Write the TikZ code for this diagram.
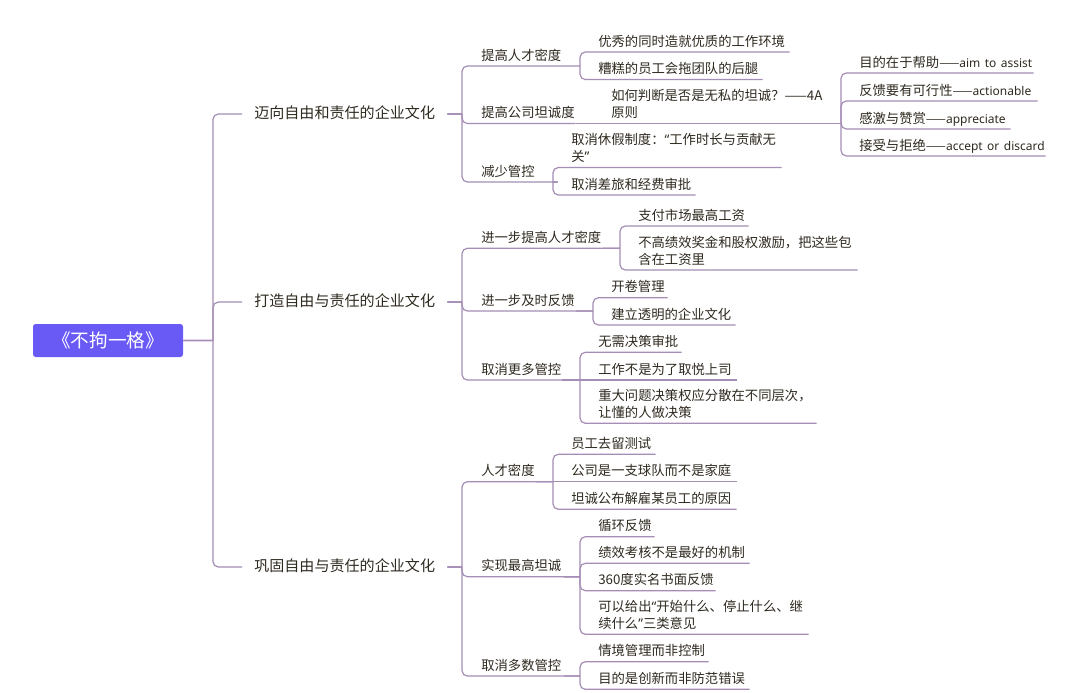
\documentclass[tikz,border=0pt]{standalone}
\usepackage{fontspec}
\setmainfont{Noto Sans CJK SC}
\newfontfamily\qfont{Noto Sans}
\newcommand{\qopen}{{\qfont “}}
\newcommand{\qclose}{{\qfont ”}}
\newcommand{\latinpart}[1]{\mbox{\fontsize{9}{12.75}\selectfont ——{\qfont #1}}}
\usepackage{tikz}
\usetikzlibrary{calc}
\definecolor{rootblue}{HTML}{6A5AF5}
\definecolor{branchline}{HTML}{A58DB5}
\definecolor{inktext}{HTML}{2F2A20}
\tikzset{
    leaf/.style={anchor=south west,inner sep=0pt,text width=#1*0.75pt,align=left,
                 execute at end node={\rule[-4.2pt]{0pt}{4.2pt}},
                 text=inktext,font=\fontsize{10}{12.75}\selectfont},
    topic/.style={anchor=west,inner xsep=9pt,inner ysep=2pt,text depth=3.3pt,text=inktext,font=\fontsize{11.3}{14}\selectfont},
    % #1 anchor on the parent, #2 anchor on the child where the bracket is measured, #3 bracket offset, #4 end anchor
    bracket/.style n args={4}{rounded corners=4pt,to path={
        ($(\tikztotarget.#2)+(-#3,0)$) coordinate (jt)
        (\tikztostart.#1 -| jt) coordinate (jm)
        (\tikztostart.#1) -- (jm) (jm) -- (jt) -- (\tikztotarget.#4)}},
    branch/.style={bracket={south east}{south west}{18}{south east}},
    flat/.style={to path={(\tikztostart.south east) -- (\tikztotarget.south east)}},
}
\begin{document}
\begin{tikzpicture}[x=0.75pt,y=-0.75pt]
\path[use as bounding box] (0,0) rectangle (1080,692);
\begin{scope}
    \node[fill=rootblue,rounded corners=2pt,text=white,minimum width=112.5pt,minimum height=24.75pt,inner sep=0pt,
          font=\fontsize{14}{16}\selectfont] (root) at (108,340.5) {《不拘一格》};
    \node[topic] (free) at (242,114) {迈向自由和责任的企业文化};
    \node[topic] (build) at (242,302) {打造自由与责任的企业文化};
    \node[topic] (keep) at (242,567) {巩固自由与责任的企业文化};

    \node[leaf=97] (talent) at (481,66) {提高人才密度};
    \node[leaf=191] (great) at (598,52) {优秀的同时造就优质的工作环境};
    \node[leaf=164] (poor) at (598,79.5) {糟糕的员工会拖团队的后腿};
    \node[leaf=94] (candor) at (481,123.5) {提高公司坦诚度};
    \node[leaf=230] (fourA) at (611,123.5) {如何判断是否是无私的坦诚？——4A\\原则};
    \node[leaf=174] (assist) at (859,73) {\mbox{目的在于帮助\latinpart{aim to assist}}};
    \node[leaf=178] (action) at (859,101) {\mbox{反馈要有可行性\latinpart{actionable}}};
    \node[leaf=151] (apprec) at (859,129) {\mbox{感激与赞赏\latinpart{appreciate}}};
    \node[leaf=186] (accept) at (859,156) {\mbox{接受与拒绝\latinpart{accept or discard}}};
    \node[leaf=76] (less) at (481,182) {减少管控};
    \node[leaf=210] (holiday) at (571,167.5) {取消休假制度：\qopen 工作时长与贡献无\\关\qclose};
    \node[leaf=124] (travel) at (571,195) {取消差旅和经费审批};

    \node[leaf=121] (talent2) at (481,248.3) {进一步提高人才密度};
    \node[leaf=110] (pay) at (638,226) {支付市场最高工资};
    \node[leaf=219] (bonus) at (638,270) {不高绩效奖金和股权激励，把这些包\\含在工资里};
    \node[leaf=94] (feedback) at (481,311) {进一步及时反馈};
    \node[leaf=56] (openbook) at (611,297.7) {开卷管理};
    \node[leaf=124] (opencult) at (611,325) {建立透明的企业文化};
    \node[leaf=80] (more) at (481,380) {取消更多管控};
    \node[leaf=83] (noappr) at (598,352.3) {无需决策审批};
    \node[leaf=138] (noboss) at (598,380) {工作不是为了取悦上司};
    \node[leaf=218] (decide) at (598,423.3) {重大问题决策权应分散在不同层次，\\让懂的人做决策};

    \node[leaf=54] (density) at (481,481.7) {人才密度};
    \node[leaf=84] (stay) at (571,454.3) {员工去留测试};
    \node[leaf=165] (team) at (571,481.7) {公司是一支球队而不是家庭};
    \node[leaf=165] (dismiss) at (571,509.3) {坦诚公布解雇某员工的原因};
    \node[leaf=82] (top) at (481,576.7) {实现最高坦诚};
    \node[leaf=56] (cycle) at (598,536.7) {循环反馈};
    \node[leaf=151] (review) at (598,563.3) {绩效考核不是最好的机制};
    \node[leaf=117] (three60) at (598,590.7) {360度实名书面反馈};
    \node[leaf=210] (advice) at (598,634.3) {可以给出\qopen 开始什么、停止什么、继\\续什么\qclose 三类意见};
    \node[leaf=82] (most) at (481,676) {取消多数管控};
    \node[leaf=110] (context) at (598,661.7) {情境管理而非控制};
    \node[leaf=151] (innov) at (598,689.3) {目的是创新而非防范错误};
\end{scope}
\begin{scope}[every edge/.style={draw=branchline,line width=0.9pt}]
    \path (root) edge[bracket={east}{west}{29}{west}] (free);
    \path (root) edge[bracket={east}{west}{29}{west}] (build);
    \path (root) edge[bracket={east}{west}{29}{west}] (keep);
    \path (free) edge[bracket={east}{south west}{19}{south east}] (talent);
    \path (free) edge[bracket={east}{south west}{19}{south east}] (candor);
    \path (free) edge[bracket={east}{south west}{19}{south east}] (less);
    \path (build) edge[bracket={east}{south west}{19}{south east}] (talent2);
    \path (build) edge[bracket={east}{south west}{19}{south east}] (feedback);
    \path (build) edge[bracket={east}{south west}{19}{south east}] (more);
    \path (keep) edge[bracket={east}{south west}{19}{south east}] (density);
    \path (keep) edge[bracket={east}{south west}{19}{south east}] (top);
    \path (keep) edge[bracket={east}{south west}{19}{south east}] (most);

    \path (talent) edge[branch] (great);
    \path (talent) edge[branch] (poor);
    \path (candor) edge[flat] (fourA);
    \path (fourA) edge[branch] (assist);
    \path (fourA) edge[branch] (action);
    \path (fourA) edge[branch] (apprec);
    \path (fourA) edge[branch] (accept);
    \path (less) edge[branch] (holiday);
    \path (less) edge[branch] (travel);
    \path (talent2) edge[branch] (pay);
    \path (talent2) edge[branch] (bonus);
    \path (feedback) edge[branch] (openbook);
    \path (feedback) edge[branch] (opencult);
    \path (more) edge[branch] (noappr);
    \path (more) edge[flat] (noboss);
    \path (more) edge[branch] (decide);
    \path (density) edge[branch] (stay);
    \path (density) edge[flat] (team);
    \path (density) edge[branch] (dismiss);
    \path (top) edge[branch] (cycle);
    \path (top) edge[branch] (review);
    \path (top) edge[branch] (three60);
    \path (top) edge[branch] (advice);
    \path (most) edge[branch] (context);
    \path (most) edge[branch] (innov);
\end{scope}
\end{tikzpicture}
\end{document}
